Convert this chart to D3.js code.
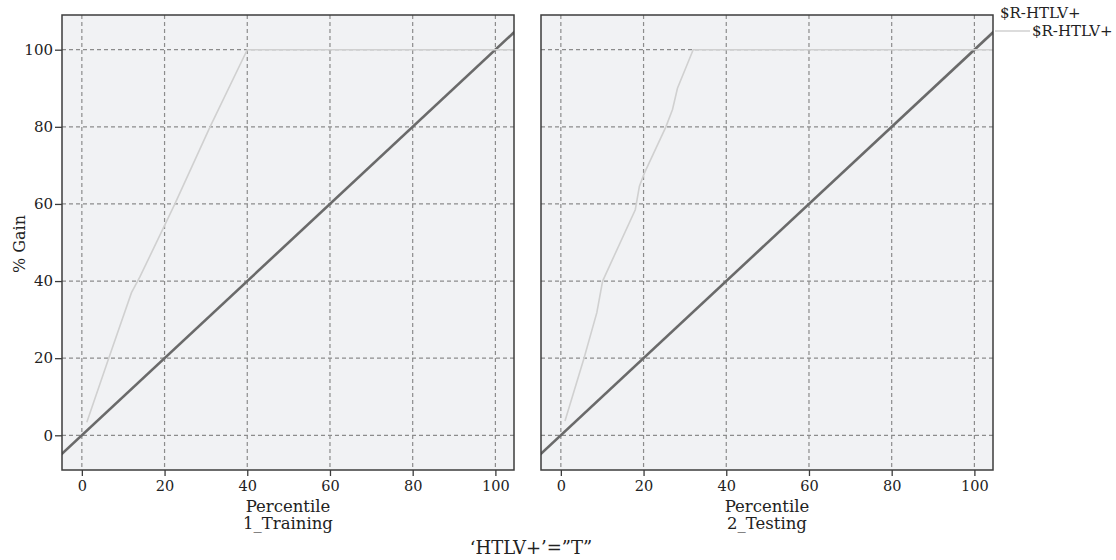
<!DOCTYPE html>
<html>
<head>
<meta charset="utf-8">
<script src="https://cdn.jsdelivr.net/npm/d3@7"></script>
<style>
body { margin: 0; background: #fff; }
svg text { font-family: "DejaVu Serif", serif; fill: #222; }
</style>
</head>
<body>
<div id="graphDiv"></div>
<script>
// data
var panels = ["1_Training", "2_Testing"];
var xTicks = [0, 20, 40, 60, 80, 100];
var yTicks = [0, 20, 40, 60, 80, 100];
var baseX = [-10, 110];
var baseY = [-10, 110];
var trainX = [1.2, 6.5, 12, 14, 22.5, 31, 40, 105];
var trainY = [3.4, 20, 37, 41, 60, 80, 100, 100];
var testX = [1.0, 5.6, 8.7, 10.1, 18, 19, 20.2, 25.4, 27, 28.2, 32, 105];
var testY = [3.7, 20, 31.8, 40, 58.5, 64.6, 68, 80, 84.5, 90, 100, 100];
var legendTitle = "$R-HTLV+";
var seriesName = "$R-HTLV+";

var gains = [
  trainX.map(function(d, i) { return [d, trainY[i]]; }),
  testX.map(function(d, i) { return [d, testY[i]]; })
];

var width = 1116, height = 560;
var plotTop = 15, plotBottom = 470;
var panelLeft = [62, 541], panelWidth = 452;

var svg = d3.select("#graphDiv")
  .append("svg")
  .attr("width", width)
  .attr("height", height);

var y = d3.scaleLinear().domain([-9, 109]).range([plotBottom, plotTop]);

panels.forEach(function(name, p) {
  var x = d3.scaleLinear()
    .domain([-4.8, 104.5])
    .range([panelLeft[p], panelLeft[p] + panelWidth]);

  var clipId = "clip" + p;
  svg.append("clipPath").attr("id", clipId)
    .append("rect")
    .attr("x", x.range()[0]).attr("y", plotTop)
    .attr("width", panelWidth).attr("height", plotBottom - plotTop);

  svg.append("rect")
    .attr("x", x.range()[0]).attr("y", plotTop)
    .attr("width", panelWidth).attr("height", plotBottom - plotTop)
    .attr("fill", "#f1f2f4");

  // grid
  var g = svg.append("g");
  g.selectAll(".vg").data(xTicks).enter().append("line")
    .attr("x1", function(d) { return x(d); }).attr("x2", function(d) { return x(d); })
    .attr("y1", plotTop).attr("y2", plotBottom)
    .attr("stroke", "#8c8c8c").attr("stroke-width", 1.2)
    .attr("stroke-dasharray", "4,3");
  g.selectAll(".hg").data(yTicks).enter().append("line")
    .attr("y1", function(d) { return y(d); }).attr("y2", function(d) { return y(d); })
    .attr("x1", x.range()[0]).attr("x2", x.range()[1])
    .attr("stroke", "#8c8c8c").attr("stroke-width", 1.2)
    .attr("stroke-dasharray", "4,3");

  var line = d3.line()
    .x(function(d) { return x(d[0]); })
    .y(function(d) { return y(d[1]); });

  var lines = svg.append("g").attr("clip-path", "url(#" + clipId + ")");
  lines.append("path")
    .datum(baseX.map(function(d, i) { return [d, baseY[i]]; }))
    .attr("d", line)
    .attr("fill", "none")
    .attr("stroke", "#6a6a6a")
    .attr("stroke-width", 2.6);
  lines.append("path")
    .datum(gains[p])
    .attr("d", line)
    .attr("fill", "none")
    .attr("stroke", "#d0d0d0")
    .attr("stroke-width", 1.6);

  // frame
  svg.append("rect")
    .attr("x", x.range()[0]).attr("y", plotTop)
    .attr("width", panelWidth).attr("height", plotBottom - plotTop)
    .attr("fill", "none").attr("stroke", "#3c3c3c").attr("stroke-width", 1.5);

  // x axis
  var xa = svg.append("g")
    .attr("transform", "translate(0," + plotBottom + ")")
    .call(d3.axisBottom(x).tickValues(xTicks).tickSize(6).tickPadding(5));
  xa.select(".domain").remove();
  xa.selectAll("line").attr("stroke", "#3c3c3c").attr("stroke-width", 1.3);
  xa.selectAll("text").attr("font-size", 14.5).attr("fill", "#222")
    .attr("font-family", "DejaVu Serif");

  var cx = (x.range()[0] + x.range()[1]) / 2;
  svg.append("text").attr("x", cx).attr("y", 512)
    .attr("text-anchor", "middle").attr("font-size", 16.5).text("Percentile");
  svg.append("text").attr("x", cx).attr("y", 529)
    .attr("text-anchor", "middle").attr("font-size", 16.5).text(name);

  if (p === 0) {
    var ya = svg.append("g")
      .attr("transform", "translate(" + x.range()[0] + ",0)")
      .call(d3.axisLeft(y).tickValues(yTicks).tickSize(7).tickPadding(2));
    ya.select(".domain").remove();
    ya.selectAll("line").attr("stroke", "#3c3c3c").attr("stroke-width", 1.3);
    ya.selectAll("text").attr("font-size", 15).attr("fill", "#222")
      .attr("font-family", "DejaVu Serif");
  }
});

svg.append("text")
  .attr("transform", "translate(25,244) rotate(-90)")
  .attr("text-anchor", "middle").attr("font-size", 16).text("% Gain");

svg.append("text").attr("x", 531).attr("y", 554)
  .attr("text-anchor", "middle").attr("font-size", 18)
  .attr("font-family", "Liberation Serif")
  .text("\u2018HTLV+\u2019=\u201DT\u201D");

// legend
svg.append("text").attr("x", 1000).attr("y", 18)
  .attr("font-size", 15).attr("font-family", "Liberation Serif")
  .text(legendTitle);
svg.append("line")
  .attr("x1", 995).attr("x2", 1030).attr("y1", 31).attr("y2", 31)
  .attr("stroke", "#d0d0d0").attr("stroke-width", 1.6);
svg.append("text").attr("x", 1032).attr("y", 36)
  .attr("font-size", 15).attr("font-family", "Liberation Serif")
  .text(seriesName);
</script>
</body>
</html>
